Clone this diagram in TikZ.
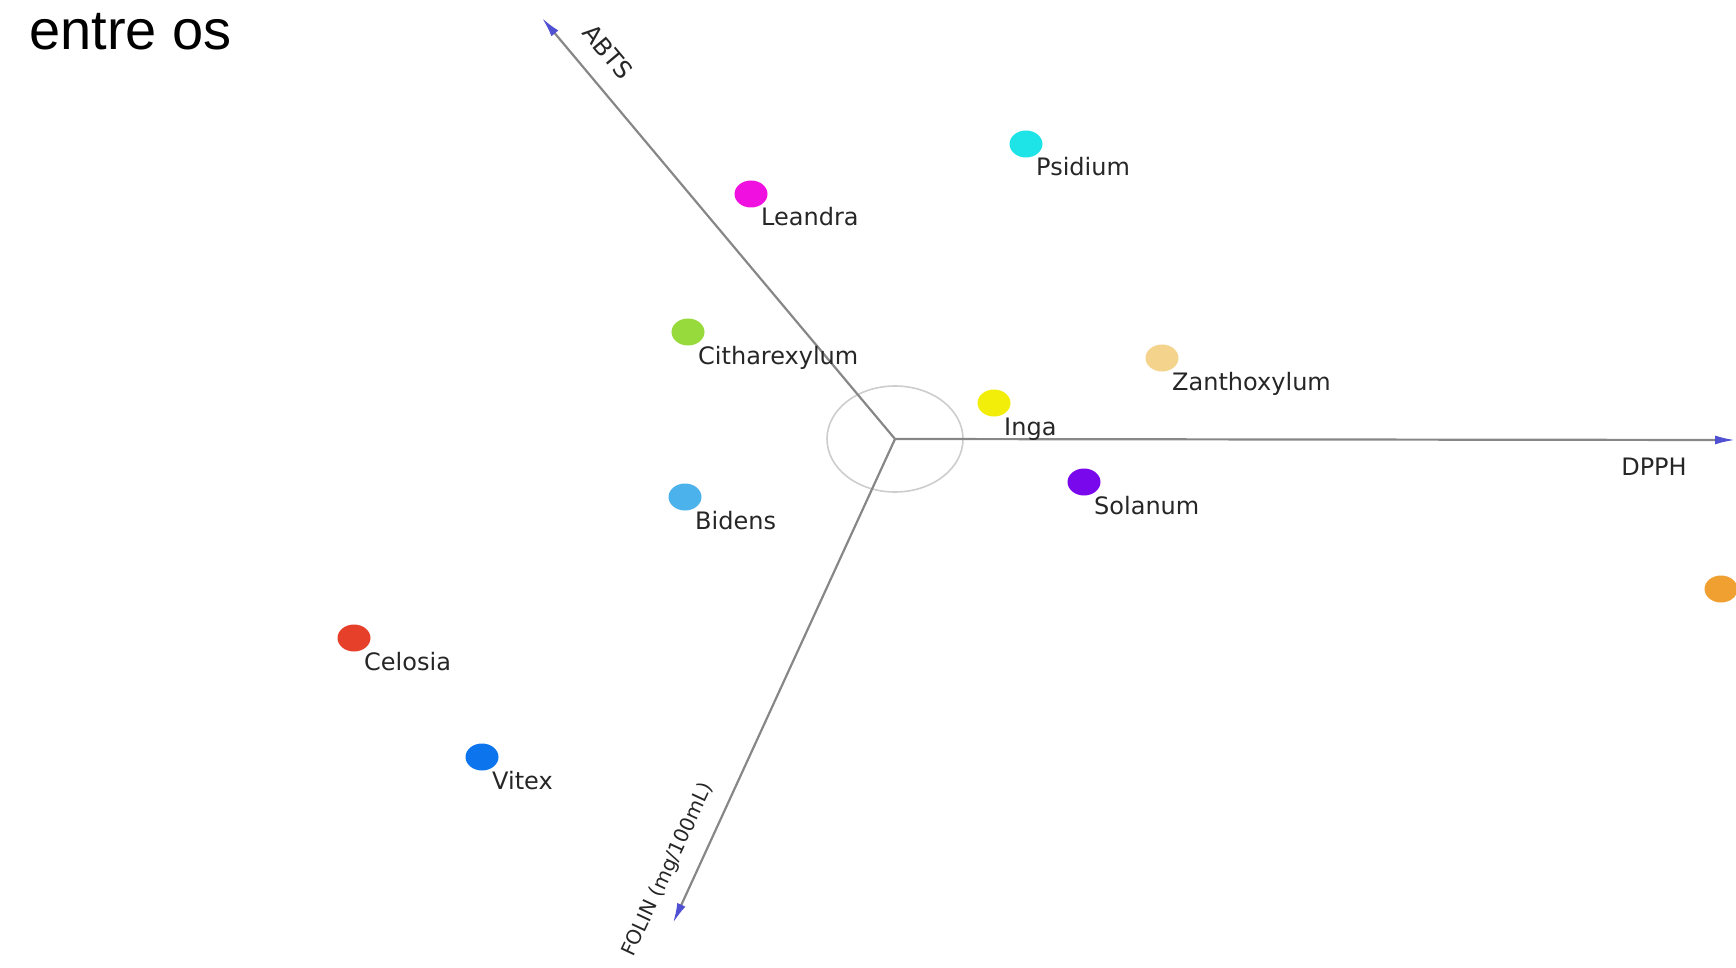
\documentclass[tikz,border=0pt]{standalone}
\usepackage{fontspec}
\setmainfont{DejaVu Sans}
\newfontfamily\titlefont{Liberation Sans}
\usetikzlibrary{arrows.meta,positioning,shapes.geometric}
\definecolor{axisgray}{RGB}{135,135,135}
\definecolor{ringgray}{RGB}{205,205,205}
\definecolor{tipblue}{RGB}{80,80,210}
\definecolor{psidiumc}{RGB}{30,228,232}
\definecolor{leandrac}{RGB}{240,16,224}
\definecolor{citharc}{RGB}{150,218,60}
\definecolor{zanthoc}{RGB}{244,212,140}
\definecolor{ingac}{RGB}{242,238,10}
\definecolor{solanumc}{RGB}{122,8,236}
\definecolor{bidensc}{RGB}{76,178,236}
\definecolor{celosiac}{RGB}{230,64,42}
\definecolor{vitexc}{RGB}{12,116,236}
\definecolor{edgec}{RGB}{240,160,48}

\begin{document}
\begin{tikzpicture}[
  x=1pt,y=-1pt,
  every node/.style={inner sep=0pt},
  axisline/.style={draw=axisgray,line width=2.2pt,
                   -{Latex[length=20pt,width=9pt,color=tipblue]}},
  spot/.style={ellipse,minimum width=33pt,minimum height=27pt},
  lbl/.style={anchor=base west,text=black!85,font=\fontsize{24}{28}\selectfont},
  axlbl/.style={text=black!85,font=\fontsize{24}{28}\selectfont},
]
  \useasboundingbox (0,0) rectangle (1736,968);
  \clip (0,0) rectangle (1736,968);

  % Title fragment
  \node[anchor=base west,font=\titlefont\fontsize{56}{60}\selectfont] (title) at (29,50) {entre os};

  % Axes
  \coordinate (o) at (895,439);
  \coordinate (abts) at (542,18);
  \coordinate (dpph) at (1735,440);
  \coordinate (folin) at (673,923);
  \draw[ringgray,line width=1.6pt] (o) ellipse [x radius=68,y radius=53];
  \draw[axisline] (o) -- (abts);
  \draw[axisline] (o) -- (dpph);
  \draw[axisline] (o) -- (folin);

  % Axis labels
  \node[axlbl,rotate=-50] (abtslbl) at (608,52) {ABTS};
  \node[axlbl] (dpphlbl) at (1654,467) {DPPH};
  \node[axlbl,rotate=65,font=\fontsize{20}{24}\selectfont] (folinlbl) at (668,870) {FOLIN (mg/100mL)};

  % Species
  \node[spot,fill=psidiumc] (psidium) at (1026,144) {};
  \node[lbl] at ([shift={(10,32)}]psidium.center) {Psidium};

  \node[spot,fill=leandrac] (leandra) at (751,194) {};
  \node[lbl] at ([shift={(10,32)}]leandra.center) {Leandra};

  \node[spot,fill=citharc] (cithar) at (688,332) {};
  \node[lbl] at ([shift={(10,32)}]cithar.center) {Citharexylum};

  \node[spot,fill=zanthoc] (zantho) at (1162,358) {};
  \node[lbl] at ([shift={(10,32)}]zantho.center) {Zanthoxylum};

  \node[spot,fill=ingac] (inga) at (994,403) {};
  \node[lbl] at ([shift={(10,32)}]inga.center) {Inga};

  \node[spot,fill=solanumc] (solanum) at (1084,482) {};
  \node[lbl] at ([shift={(10,32)}]solanum.center) {Solanum};

  \node[spot,fill=bidensc] (bidens) at (685,497) {};
  \node[lbl] at ([shift={(10,32)}]bidens.center) {Bidens};

  \node[spot,fill=celosiac] (celosia) at (354,638) {};
  \node[lbl] at ([shift={(10,32)}]celosia.center) {Celosia};

  \node[spot,fill=vitexc] (vitex) at (482,757) {};
  \node[lbl] at ([shift={(10,32)}]vitex.center) {Vitex};

  % Cut off at the right edge
  \node[spot,fill=edgec] (edge) at (1721,589) {};
\end{tikzpicture}
\end{document}
